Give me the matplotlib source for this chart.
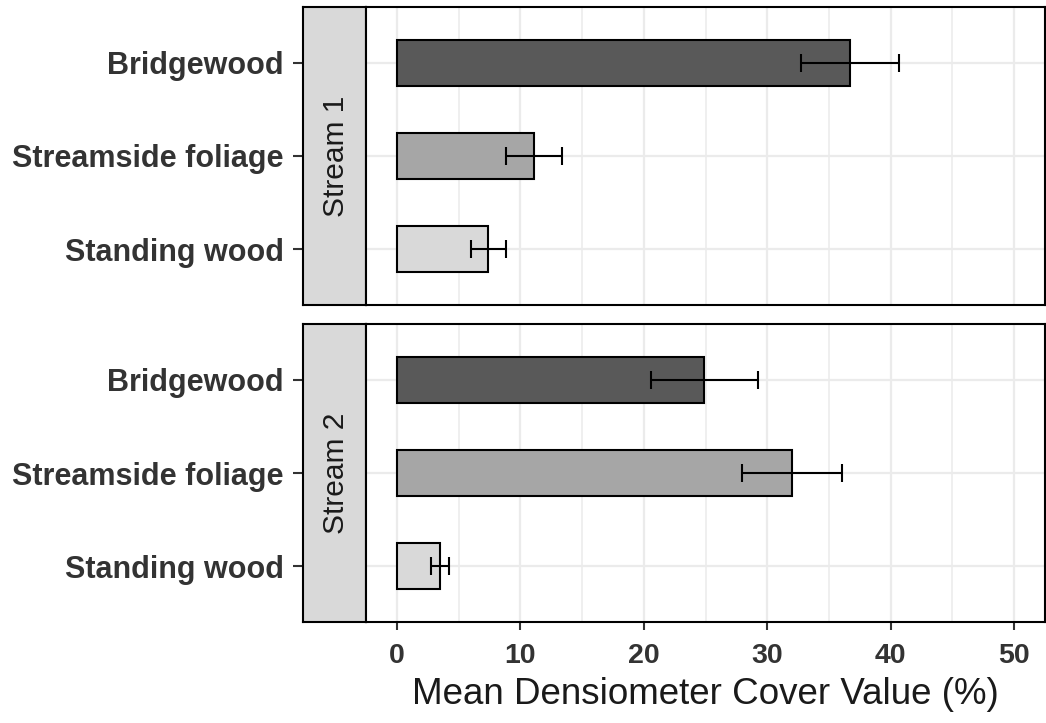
import matplotlib

matplotlib.use("Agg")
import matplotlib.pyplot as plt
from matplotlib.ticker import MultipleLocator

plt.rcParams["font.family"] = ["Liberation Sans", "DejaVu Sans"]

# cover types, drawn top to bottom
categories = ["Bridgewood", "Streamside foliage", "Standing wood"]
fills = ["#595959", "#a6a6a6", "#d9d9d9"]

streams = ["Stream 1", "Stream 2"]
stream1_mean = [36.7, 11.1, 7.4]
stream1_se = [4.0, 2.25, 1.4]
stream2_mean = [24.9, 32.0, 3.5]
stream2_se = [4.35, 4.05, 0.75]

W, H = 1046, 723
fig = plt.figure(figsize=(W / 100, H / 100), dpi=100)


def px_rect(x0, y0, x1, y1):
    # pixel box (top-left origin) -> figure fraction rect
    return [x0 / W, 1 - y1 / H, (x1 - x0) / W, (y1 - y0) / H]


def draw_panel(y_top, y_bot, label, means, ses, bottom_axis):
    ypos = [3, 2, 1]

    strip = fig.add_axes(px_rect(303, y_top, 366, y_bot))
    strip.set_facecolor("#d9d9d9")
    strip.set_xlim(0, 1)
    strip.set_ylim(0.4, 3.6)
    strip.set_xticks([])
    strip.set_yticks(ypos)
    strip.set_yticklabels(categories, fontsize=22, fontweight="bold", color="#333333")
    strip.tick_params(axis="y", length=7, width=1.5, color="#333333", pad=7)
    for s in strip.spines.values():
        s.set_linewidth(1.5)
        s.set_color("black")
    strip.text(0.52, 2.0, label, rotation=90, ha="center", va="center",
               fontsize=21.5, color="#1a1a1a")

    ax = fig.add_axes(px_rect(366, y_top, 1045, y_bot))
    ax.set_xlim(-2.5, 52.5)
    ax.set_ylim(0.4, 3.6)
    ax.xaxis.set_major_locator(MultipleLocator(10))
    ax.xaxis.set_minor_locator(MultipleLocator(5))
    ax.set_yticks(ypos)
    ax.grid(which="major", color="#ebebeb", linewidth=1.6, zorder=0)
    ax.grid(which="minor", axis="x", color="#ebebeb", linewidth=1.1, zorder=0)
    ax.set_axisbelow(True)
    ax.tick_params(axis="y", length=0, labelleft=False)
    ax.tick_params(axis="x", which="minor", length=0)

    ax.barh(ypos, means, height=0.5, color=fills, edgecolor="black",
            linewidth=1.5, zorder=2)
    ax.errorbar(means, ypos, xerr=ses, fmt="none", ecolor="black",
                elinewidth=1.5, capsize=6.5, capthick=1.5, zorder=3)

    for s in ax.spines.values():
        s.set_linewidth(1.5)
        s.set_color("black")

    if bottom_axis:
        ax.tick_params(axis="x", which="major", length=6, width=1.5,
                       color="#333333", pad=9, labelsize=20.5, labelcolor="#333333")
        for t in ax.get_xticklabels():
            t.set_fontweight("bold")
        ax.set_xlabel("Mean Densiometer Cover Value (%)", fontsize=26.5,
                      color="#1a1a1a", labelpad=6)
    else:
        ax.tick_params(axis="x", which="major", length=0, labelbottom=False)
    return ax


draw_panel(7, 305, streams[0], stream1_mean, stream1_se, False)
draw_panel(324, 622, streams[1], stream2_mean, stream2_se, True)

fig.savefig("out.png", dpi=100)
